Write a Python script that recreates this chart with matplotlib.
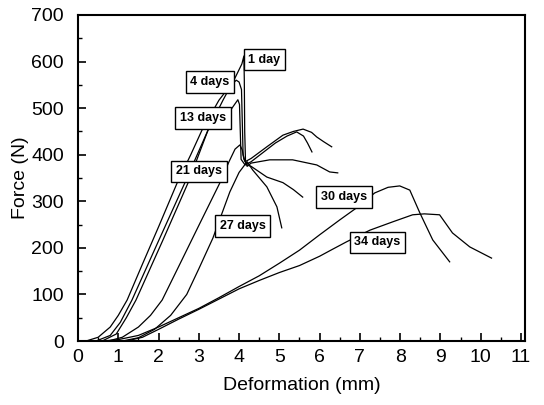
import numpy as np
import matplotlib.pyplot as plt

plt.rcParams['font.family'] = ['Liberation Sans', 'DejaVu Sans']

# datos (deformacion en mm, fuerza en N)
x_1d = [0.45, 0.8, 1.05, 1.34, 2.0, 2.65, 3.23, 3.6, 3.9, 4.07, 4.12, 4.13, 4.14, 4.16, 4.2,
        4.3, 4.76, 5.33, 5.93, 6.25, 6.45]
y_1d = [0, 12, 40, 88, 215, 339, 453, 517, 565, 595, 612, 560, 450, 385, 375,
        382, 389, 389, 378, 363, 361]

x_4d = [0.2, 0.5, 0.8, 1.0, 1.22, 1.6, 2.0, 2.46, 2.8, 3.08, 3.5, 3.75, 3.93, 4.0, 4.06, 4.08, 4.1, 4.15,
        4.3, 4.69, 5.09, 5.35, 5.59, 5.8, 5.93, 6.1, 6.3]
y_4d = [0, 8, 30, 55, 88, 165, 245, 339, 400, 453, 517, 545, 560, 556, 540, 470, 400, 385,
        392, 417, 442, 450, 455, 448, 438, 428, 417]

x_13d = [0.6, 0.95, 1.2, 1.44, 2.1, 2.73, 3.23, 3.5, 3.8, 3.97, 4.01, 4.03, 4.05, 4.15,
         4.3, 4.6, 4.9, 5.19, 5.43, 5.6, 5.7, 5.81]
y_13d = [0, 15, 50, 88, 215, 339, 453, 478, 497, 518, 508, 450, 390, 378,
         385, 405, 425, 440, 449, 440, 425, 406]

x_21d = [0.75, 1.1, 1.5, 1.8, 2.09, 2.5, 3.0, 3.52, 3.75, 3.9, 4.02, 4.08, 4.12, 4.2,
         4.3, 4.69, 5.09, 5.35, 5.58]
y_21d = [0, 8, 30, 55, 88, 160, 248, 339, 385, 412, 421, 410, 390, 378,
         375, 352, 340, 325, 309]

x_27d = [1.1, 1.5, 1.9, 2.3, 2.7, 3.0, 3.35, 3.77, 4.0, 4.2, 4.34, 4.69, 4.94, 5.06]
y_27d = [0, 7, 25, 55, 100, 155, 221, 320, 362, 385, 367, 331, 288, 243]

x_30d = [0.6, 1.0, 1.5, 2.0, 2.5, 3.0, 3.5, 4.0, 4.5, 5.0, 5.5, 6.0, 6.5, 6.92, 7.37, 7.7,
         7.99, 8.24, 8.49, 8.81, 9.23]
y_30d = [0, 3, 12, 30, 50, 70, 93, 117, 140, 167, 195, 228, 260, 286, 318, 330,
         333, 324, 275, 217, 170]

x_34d = [1.2, 1.6, 2.0, 2.5, 3.0, 3.5, 4.0, 4.5, 5.0, 5.5, 6.0, 6.3, 6.67, 7.25, 7.82, 8.31,
         8.6, 8.98, 9.3, 9.73, 10.27]
y_34d = [0, 8, 25, 47, 68, 90, 112, 130, 147, 162, 182, 196, 213, 238, 256, 271,
         273, 271, 232, 202, 178]

curvas = [(x_1d, y_1d), (x_4d, y_4d), (x_13d, y_13d), (x_21d, y_21d),
          (x_27d, y_27d), (x_30d, y_30d), (x_34d, y_34d)]

etiquetas = ['1 day', '4 days', '13 days', '21 days', '27 days', '30 days', '34 days']
etq_x = [4.63, 3.28, 3.11, 3.0, 4.09, 6.6, 7.44]
etq_y = [604, 556, 479, 364, 247, 309, 212]

fig = plt.figure(figsize=(5.44, 4.05), dpi=100)
ax = fig.add_axes([0.1434, 0.158, 0.8216, 0.805])

for xs, ys in curvas:
    ax.plot(xs, ys, color='black', lw=0.9)

for texto, tx, ty in zip(etiquetas, etq_x, etq_y):
    ax.text(tx, ty, texto, ha='center', va='center', fontsize=9, fontweight='bold', zorder=5,
            bbox=dict(boxstyle='square,pad=0.38', fc='white', ec='black', lw=1))

ax.set_xlim(0, 11.1)
ax.set_ylim(0, 700)
ax.set_xticks(np.arange(0, 12, 1))
ax.set_xticks(np.arange(0, 11.1, 0.5), minor=True)
ax.set_yticks(np.arange(0, 701, 100))
ax.set_yticks(np.arange(0, 701, 50), minor=True)
ax.tick_params(which='both', direction='in', labelsize=14)
ax.tick_params(which='major', length=6, width=1.2)
ax.tick_params(which='minor', length=3, width=1)
ax.tick_params(axis='y', which='major', pad=10)
ax.tick_params(axis='x', which='major', pad=6)
for s in ax.spines.values():
    s.set_linewidth(1.5)

ax.set_xlabel('Deformation (mm)', fontsize=14, labelpad=8)
ax.set_ylabel('Force (N)', fontsize=14, labelpad=2)

plt.savefig('out.png', dpi=100)
